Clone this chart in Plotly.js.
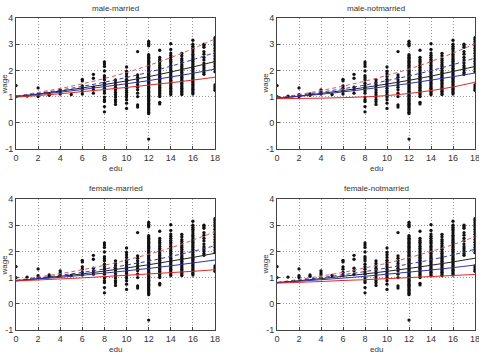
<!DOCTYPE html>
<html>
<head>
<meta charset="utf-8">
<script src="https://cdn.plot.ly/plotly-3.0.1.min.js"></script>
<style>html,body{margin:0;padding:0;background:#fff;}#plot{width:479px;height:361px;}</style>
</head>
<body>
<div id="plot"></div>
<script>
// ---- data ----
const panelTitles = ["male-married", "male-notmarried", "female-married", "female-notmarried"];
const eduLevels = [0,1,2,3,4,5,6,7,8,9,10,11,12,13,14,15,16,17,18];
const wageByEdu = [
  [1.42, 1.0],
  [1.02],
  [1.33, 1.07, 1.0],
  [1.1, 1.05],
  [1.26, 1.18, 1.1],
  [1.08],
  [1.66, 1.6, 1.41, 1.32, 1.2, 1.1],
  [1.85, 1.7, 1.36, 1.26, 1.13],
  [2.32, 2.24, 2.15, 1.98, 1.8, 1.72, 1.64, 1.51, 1.41, 1.32, 1.22, 1.13, 0.98, 0.88, 0.81, 0.62, 0.42],
  [1.64, 1.54, 1.45, 1.36, 1.26, 1.16, 1.07, 0.98, 0.88, 0.8, 0.7],
  [2.13, 1.96, 1.87, 1.77, 1.66, 1.58, 1.49, 1.41, 1.32, 1.23, 1.16, 1.07, 0.98, 0.88, 0.75, 0.55],
  [2.72, 1.83, 1.74, 1.64, 1.54, 1.45, 1.36, 1.26, 1.13, 1.0, 0.68, 0.6],
  [3.11, 3.04, 2.98, 2.94, 2.6, 2.55, 2.5, 2.45, 2.4, 2.35, 2.3, 2.25, 2.2, 2.15, 2.1, 2.05, 2.0, 1.95, 1.9, 1.85, 1.8, 1.75, 1.7, 1.65, 1.6, 1.55, 1.5, 1.45, 1.4, 1.35, 1.3, 1.25, 1.2, 1.15, 1.1, 1.05, 1.0, 0.95, 0.9, 0.85, 0.8, 0.75, 0.7, 0.65, 0.6, 0.55, 0.5, 0.45, 0.4, 0.35, -0.62],
  [2.77, 2.5, 2.42, 2.35, 2.28, 2.2, 2.12, 2.05, 1.98, 1.9, 1.84, 1.78, 1.72, 1.66, 1.6, 1.54, 1.48, 1.42, 1.36, 1.3, 1.24, 1.18, 1.12, 1.06, 1.0, 0.78, 0.72],
  [3.02, 2.8, 2.66, 2.58, 2.5, 2.42, 2.35, 2.28, 2.2, 2.13, 2.06, 2.0, 1.93, 1.86, 1.8, 1.74, 1.68, 1.62, 1.56, 1.5, 1.44, 1.38, 1.32, 1.26, 1.2, 1.14, 1.08],
  [2.65, 2.56, 2.45, 2.38, 2.3, 2.22, 2.15, 2.08, 2.0, 1.93, 1.86, 1.8, 1.74, 1.68, 1.62, 1.56, 1.5, 1.44, 1.38, 1.32, 1.26, 1.2, 1.14, 1.08],
  [3.15, 3.0, 2.92, 2.85, 2.78, 2.7, 2.62, 2.55, 2.48, 2.42, 2.35, 2.28, 2.22, 2.15, 2.08, 2.02, 1.95, 1.88, 1.82, 1.76, 1.7, 1.64, 1.58, 1.52, 1.46, 1.4, 1.34, 1.28, 1.22, 1.16, 1.1],
  [3.0, 2.94, 2.88, 2.72, 2.62, 2.5, 2.4, 2.28, 2.18, 2.1, 2.02, 1.92, 1.85],
  [3.25, 3.18, 3.1, 3.02, 2.95, 2.85, 2.75, 2.65, 2.55, 2.45, 2.35, 2.25, 2.15, 2.05, 1.95, 1.45, 1.38, 1.3, 1.24]
];
const eduGrid = [0, 2, 4, 6, 8, 10, 12, 14, 16, 18];
// quantile curves per panel
const mmQ90 = [1.02,1.16,1.31,1.49,1.69,1.92,2.19,2.49,2.83,3.20];
const mmQ75 = [1.01,1.12,1.25,1.39,1.55,1.73,1.93,2.16,2.41,2.68];
const mmQ50 = [1.00,1.10,1.21,1.33,1.46,1.60,1.76,1.94,2.13,2.34];
const mmQ25 = [1.00,1.08,1.17,1.27,1.38,1.49,1.61,1.75,1.89,2.05];
const mmQ10 = [0.98,1.04,1.11,1.19,1.27,1.35,1.44,1.53,1.63,1.74];
const mnQ90 = [0.95,1.08,1.23,1.40,1.59,1.81,2.05,2.34,2.66,3.02];
const mnQ75 = [0.94,1.05,1.17,1.30,1.44,1.61,1.79,1.99,2.22,2.47];
const mnQ50 = [0.93,1.02,1.12,1.23,1.35,1.48,1.62,1.78,1.96,2.15];
const mnQ25 = [0.93,1.01,1.09,1.18,1.28,1.39,1.50,1.63,1.76,1.90];
const mnQ10 = [0.92,0.93,0.94,0.96,0.99,1.04,1.12,1.23,1.37,1.55];
const fmQ90 = [0.90,1.02,1.15,1.30,1.47,1.67,1.89,2.14,2.43,2.75];
const fmQ75 = [0.89,0.98,1.09,1.20,1.33,1.48,1.63,1.81,2.00,2.22];
const fmQ50 = [0.88,0.96,1.05,1.14,1.25,1.37,1.49,1.63,1.77,1.93];
const fmQ25 = [0.88,0.95,1.01,1.09,1.17,1.26,1.35,1.45,1.56,1.67];
const fmQ10 = [0.87,0.91,0.95,0.99,1.04,1.09,1.14,1.19,1.24,1.30];
const fnQ90 = [0.82,0.93,1.06,1.20,1.37,1.55,1.76,2.00,2.26,2.56];
const fnQ75 = [0.81,0.90,1.00,1.11,1.23,1.37,1.52,1.68,1.87,2.08];
const fnQ50 = [0.81,0.88,0.96,1.05,1.14,1.24,1.35,1.47,1.60,1.74];
const fnQ25 = [0.80,0.86,0.92,0.98,1.05,1.13,1.21,1.29,1.38,1.48];
const fnQ10 = [0.79,0.82,0.85,0.89,0.92,0.96,1.00,1.04,1.08,1.12];
const xTicks = [0, 2, 4, 6, 8, 10, 12, 14, 16, 18];
const yTicks = [-1, 0, 1, 2, 3, 4];

// ---- build ----
const panelCurves = [
  [mmQ90, mmQ75, mmQ50, mmQ25, mmQ10],
  [mnQ90, mnQ75, mnQ50, mnQ25, mnQ10],
  [fmQ90, fmQ75, fmQ50, fmQ25, fmQ10],
  [fnQ90, fnQ75, fnQ50, fnQ25, fnQ10]
];
const curveStyles = [
  {color: '#d85a64', dash: '4px,3px'},
  {color: '#3838b8', dash: '4px,3px'},
  {color: '#222222', dash: 'solid'},
  {color: '#3030b0', dash: 'solid'},
  {color: '#e02828', dash: 'solid'}
];
const W = 479, H = 361;
const xDom = [[16/W, 215/W], [277/W, 475/W]];
const yDom = [[1-149/H, 1-18/H], [1-330/H, 1-199/H]];

const sx = [], sy = [];
eduLevels.forEach((e, i) => wageByEdu[i].forEach(w => { sx.push(e); sy.push(w); }));

const traces = [];
const fontFam = 'Liberation Sans Narrow, Liberation Sans, Arial, sans-serif';
const layout = {
  width: W, height: H, margin: {l:0, r:0, t:0, b:0},
  paper_bgcolor: '#fff', plot_bgcolor: '#fff', showlegend: false,
  font: {family: fontFam, size: 9, color: '#333'},
  annotations: []
};
for (let p = 0; p < 4; p++) {
  const col = p % 2, row = Math.floor(p / 2);
  const n = p === 0 ? '' : String(p + 1);
  const xa = 'x' + n, ya = 'y' + n;
  traces.push({type: 'scatter', mode: 'markers', x: sx, y: sy, xaxis: xa, yaxis: ya,
    marker: {color: '#111', size: 3.3, symbol: 'circle'}, hoverinfo: 'skip'});
  panelCurves[p].forEach((c, k) => traces.push({type: 'scatter', mode: 'lines', x: eduGrid, y: c,
    xaxis: xa, yaxis: ya, line: {color: curveStyles[k].color, dash: curveStyles[k].dash, width: 1, shape: 'spline'}}));
  const axBase = {showline: true, mirror: true, linecolor: '#444', linewidth: 1,
    showgrid: true, gridcolor: '#9a9a9a', griddash: '1px,2px', gridwidth: 1, zeroline: false,
    ticks: 'inside', ticklen: 3, tickcolor: '#444', ticklabeloverflow: 'allow',
    tickfont: {size: 9, color: '#333', family: fontFam}};
  layout['xaxis' + n] = Object.assign({}, axBase, {domain: xDom[col], anchor: ya, range: [0, 18],
    tickvals: xTicks, ticktext: xTicks.map(String)});
  layout['yaxis' + n] = Object.assign({}, axBase, {domain: yDom[row], anchor: xa, range: [-1, 4],
    tickvals: yTicks, ticktext: yTicks.map(String)});
  const xc = (xDom[col][0] + xDom[col][1]) / 2;
  layout.annotations.push({text: panelTitles[p], xref: 'paper', yref: 'paper', x: xc,
    y: yDom[row][1] + 10/H, yanchor: 'middle', xanchor: 'center', showarrow: false,
    font: {size: 8, color: '#333', family: fontFam}});
  layout.annotations.push({text: 'edu', xref: 'paper', yref: 'paper', x: xc,
    y: yDom[row][0] - 19/H, yanchor: 'middle', xanchor: 'center', showarrow: false,
    font: {size: 8, color: '#333', family: fontFam}});
  layout.annotations.push({text: 'wage', xref: 'paper', yref: 'paper', x: xDom[col][0] - 12/W,
    y: (yDom[row][0] + yDom[row][1]) / 2, xanchor: 'center', yanchor: 'middle', textangle: -90,
    showarrow: false, font: {size: 8, color: '#333', family: fontFam}});
}
Plotly.newPlot('plot', traces, layout, {staticPlot: true, displayModeBar: false});
</script>
</body>
</html>
